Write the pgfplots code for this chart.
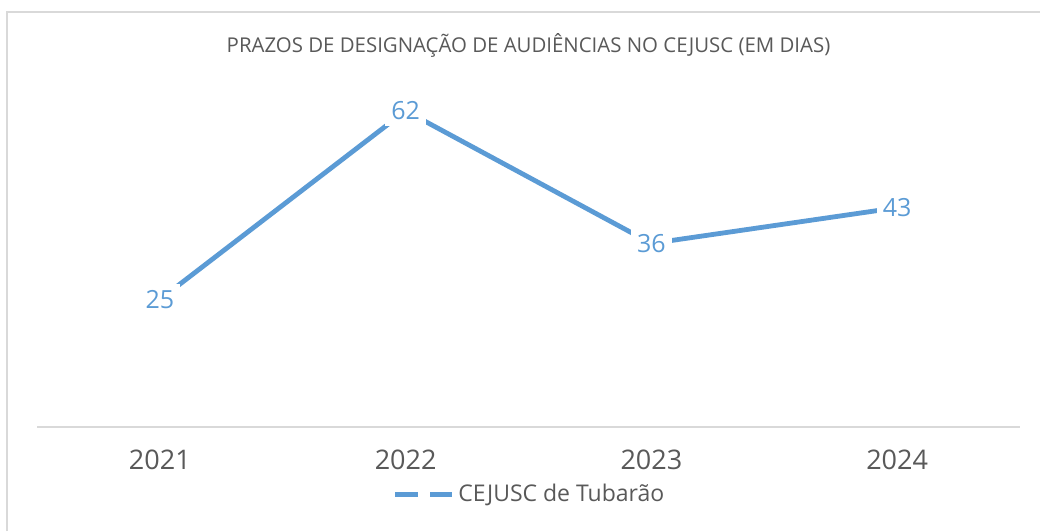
\documentclass[border=0pt]{standalone}
\usepackage{pgfplots}
\pgfplotsset{compat=1.18}
\usepackage{fontspec}
\setmainfont{Open Sans}
\definecolor{serieblue}{HTML}{5B9BD5}
\definecolor{txtgray}{HTML}{595959}
\definecolor{linegray}{HTML}{D9D9D9}
\begin{document}
\begin{tikzpicture}
\useasboundingbox (0,0) rectangle (520pt,265.5pt);
\fill[white] (0,0) rectangle (520pt,265.5pt);
\draw[linegray, line width=0.8pt] (3.5pt,0pt) -- (3.5pt,259.5pt) -- (520pt,259.5pt);
\begin{axis}[
  at={(18.5pt,52pt)}, anchor=south west,
  scale only axis, width=491.5pt, height=178.5pt,
  xmin=-0.5, xmax=3.5, ymin=0, ymax=70,
  axis y line=none,
  axis x line=bottom,
  x axis line style={-, draw=linegray, line width=0.8pt},
  xtick={0,1,2,3},
  xticklabels={2021,2022,2023,2024},
  major tick length=0pt,
  /pgf/number format/assume math mode=true,
  xticklabel style={anchor=center, yshift=-16.5pt, font=\fontsize{13.5}{16}\selectfont, text=txtgray},
  title={PRAZOS DE DESIGNAÇÃO DE AUDIÊNCIAS NO CEJUSC (EM DIAS)},
  title style={at={(0.5,1)}, anchor=center, yshift=6.5pt, font=\fontsize{10.2}{12}\selectfont, text=txtgray},
  clip=false,
  legend style={at={(0.502,-0.188)}, anchor=center, draw=none, fill=none,
    font=\fontsize{11.5}{13}\selectfont, text=txtgray, inner sep=0pt,
    /tikz/every even column/.append style={column sep=0pt}},
  legend cell align=left,
  legend image code/.code={
    \draw[#1] (0pt,0pt) -- (11.5pt,0pt);
    \draw[#1] (17.5pt,0pt) -- (28.5pt,0pt);
  },
]
\addplot[serieblue, line width=2.4pt, mark=none,
  nodes near coords,
  every node near coord/.append style={anchor=center, fill=white, inner sep=3pt,
    text=serieblue, font=\fontsize{12.5}{14}\selectfont},
  /pgf/number format/assume math mode=true]
  coordinates {(0,25) (1,62) (2,36) (3,43)};
\addlegendentry{CEJUSC de Tubarão}
\end{axis}
\end{tikzpicture}
\end{document}
